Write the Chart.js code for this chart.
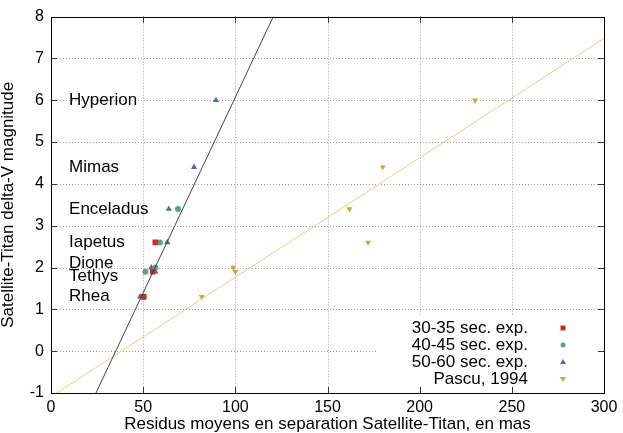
<!DOCTYPE html>
<html lang="en">
<head>
<meta charset="UTF-8" />
<title>Satellite-Titan residuals</title>
<style>
  * { margin: 0; padding: 0; box-sizing: border-box; }
  body { background: #fff; }
  .chartBox { width: 623px; height: 433px; }
</style>
</head>
<body>
<div class="chartBox"><canvas id="myChart"></canvas></div>
<script src="https://cdn.jsdelivr.net/npm/chart.js"></script>
<script>
// series values
const exp30X = [50.0, 55.2, 56.6];
const exp30Y = [1.3, 1.9, 2.6];
const exp40X = [50.6, 51.2, 56.6, 59.1, 68.9];
const exp40Y = [1.3, 1.9, 2.0, 2.6, 3.4];
const exp50X = [48.3, 54.4, 56.6, 63.1, 63.9, 77.6, 89.5];
const exp50Y = [1.3, 2.0, 1.9, 2.6, 3.4, 4.4, 6.0];
const pascuX = [81.8, 98.9, 100.0, 161.9, 172.0, 180.0, 230.0];
const pascuY = [1.3, 2.0, 1.9, 3.4, 2.6, 4.4, 6.0];

// fitted lines (end points)
const fitX = [24.4, 120.6];
const fitY = [-1, 8];
const pascuFitX = [3.1, 300];
const pascuFitY = [-1, 7.48];

// satellite labels
const moonNames = ["Hyperion", "Mimas", "Enceladus", "Iapetus", "Dione", "Tethys", "Rhea"];
const moonMags = [6.0, 4.4, 3.4, 2.6, 2.1, 1.8, 1.3];
const moonLabelX = 9.8;

const seriesNames = ["30-35 sec. exp.", "40-45 sec. exp.", "50-60 sec. exp.", "Pascu, 1994"];
const seriesColors = ["#d1291f", "#55a87a", "#3d70b8", "#d8a22c"];

const xTicks = [0, 50, 100, 150, 200, 250, 300];
const yTicks = [-1, 0, 1, 2, 3, 4, 5, 6, 7, 8];

Chart.defaults.font.family = "'Liberation Sans', Arial, sans-serif";
Chart.defaults.color = "#000";

const toPoints = (xs, ys) => xs.map((x, i) => ({ x: x, y: ys[i] }));

const gnuplotFrame = {
  id: "gnuplotFrame",
  beforeDatasetsDraw(chart) {
    const { ctx, chartArea: { top, bottom, left, right }, scales: { x, y } } = chart;
    ctx.save();
    ctx.strokeStyle = "#a0a0a0";
    ctx.lineWidth = 1;
    ctx.setLineDash([1, 2]);
    xTicks.slice(1, -1).forEach((v) => {
      const px = Math.round(x.getPixelForValue(v)) + 0.5;
      ctx.beginPath();
      ctx.moveTo(px, top);
      ctx.lineTo(px, bottom);
      ctx.stroke();
    });
    yTicks.slice(1, -1).forEach((v) => {
      const py = Math.round(y.getPixelForValue(v)) + 0.5;
      ctx.beginPath();
      ctx.moveTo(left, py);
      ctx.lineTo(right, py);
      ctx.stroke();
    });
    ctx.setLineDash([]);
    // key box blanks the grid
    ctx.fillStyle = "#fff";
    ctx.fillRect(right - 226, bottom - 77, 226, 77);
    ctx.restore();
  },
  afterDatasetsDraw(chart) {
    const { ctx, chartArea: { top, bottom, left, right }, scales: { x, y } } = chart;
    ctx.save();
    ctx.strokeStyle = "#000";
    ctx.lineWidth = 1;
    ctx.strokeRect(Math.round(left) + 0.5, Math.round(top) + 0.5, Math.round(right - left), Math.round(bottom - top));

    // inward tick marks on all four sides
    const len = 6;
    ctx.strokeStyle = "#333";
    xTicks.slice(1, -1).forEach((v) => {
      const px = Math.round(x.getPixelForValue(v)) + 0.5;
      ctx.beginPath();
      ctx.moveTo(px, bottom);
      ctx.lineTo(px, bottom - len);
      ctx.moveTo(px, top);
      ctx.lineTo(px, top + len);
      ctx.stroke();
    });
    yTicks.slice(1, -1).forEach((v) => {
      const py = Math.round(y.getPixelForValue(v)) + 0.5;
      ctx.beginPath();
      ctx.moveTo(left, py);
      ctx.lineTo(left + len, py);
      ctx.moveTo(right, py);
      ctx.lineTo(right - len, py);
      ctx.stroke();
    });

    // satellite names
    ctx.fillStyle = "#000";
    ctx.font = "17px 'Liberation Sans', Arial, sans-serif";
    ctx.textAlign = "left";
    ctx.textBaseline = "middle";
    moonNames.forEach((name, i) => {
      ctx.fillText(name, x.getPixelForValue(moonLabelX), y.getPixelForValue(moonMags[i]));
    });

    // key
    ctx.textAlign = "right";
    seriesNames.forEach((name, i) => {
      const ty = bottom - 65 + i * 17;
      ctx.fillStyle = "#000";
      ctx.fillText(name, right - 76, ty);
      const mx = right - 41;
      ctx.fillStyle = seriesColors[i];
      ctx.beginPath();
      if (i === 0) {
        ctx.rect(mx - 2.5, ty - 2.5, 5, 5);
      } else if (i === 1) {
        ctx.arc(mx, ty, 2.5, 0, Math.PI * 2);
      } else if (i === 2) {
        ctx.moveTo(mx, ty - 3);
        ctx.lineTo(mx + 3, ty + 2);
        ctx.lineTo(mx - 3, ty + 2);
      } else {
        ctx.moveTo(mx, ty + 3);
        ctx.lineTo(mx + 3, ty - 2);
        ctx.lineTo(mx - 3, ty - 2);
      }
      ctx.closePath();
      ctx.fill();
    });
    ctx.restore();
  },
};

const data = {
  datasets: [
    {
      label: "fit",
      type: "line",
      data: toPoints(fitX, fitY),
      borderColor: "#444",
      borderWidth: 1,
      pointRadius: 0,
    },
    {
      label: "pascu fit",
      type: "line",
      data: toPoints(pascuFitX, pascuFitY),
      borderColor: "#efca84",
      borderWidth: 1,
      pointRadius: 0,
    },
    {
      label: seriesNames[0],
      data: toPoints(exp30X, exp30Y),
      pointStyle: "rect",
      pointRadius: 4,
      backgroundColor: seriesColors[0],
      borderWidth: 0,
    },
    {
      label: seriesNames[1],
      data: toPoints(exp40X, exp40Y),
      pointStyle: "circle",
      pointRadius: 3,
      backgroundColor: seriesColors[1],
      borderWidth: 0,
    },
    {
      label: seriesNames[2],
      data: toPoints(exp50X, exp50Y),
      pointStyle: "triangle",
      pointRadius: 3.6,
      backgroundColor: seriesColors[2],
      borderWidth: 0,
    },
    {
      label: seriesNames[3],
      data: toPoints(pascuX, pascuY),
      pointStyle: "triangle",
      rotation: 180,
      pointRadius: 3.4,
      backgroundColor: seriesColors[3],
      borderWidth: 0,
    },
  ],
};

const config = {
  type: "scatter",
  data: data,
  options: {
    responsive: true,
    maintainAspectRatio: false,
    animation: false,
    layout: { padding: { top: 13, right: 19, left: 0, bottom: 0 } },
    plugins: {
      legend: { display: false },
      tooltip: { enabled: false },
    },
    scales: {
      x: {
        type: "linear",
        min: 0,
        max: 300,
        afterBuildTicks: (scale) => {
          scale.ticks = xTicks.map((v) => ({ value: v }));
        },
        afterFit: (scale) => {
          scale.height = 40;
        },
        grid: { display: false, drawTicks: false },
        border: { display: false },
        ticks: { padding: 5, font: { size: 16 } },
        title: {
          display: true,
          text: "Residus moyens en separation Satellite-Titan, en mas",
          font: { size: 17, lineHeight: 1 },
          padding: 0,
        },
      },
      y: {
        type: "linear",
        min: -1,
        max: 8,
        afterBuildTicks: (scale) => {
          scale.ticks = yTicks.map((v) => ({ value: v }));
        },
        afterFit: (scale) => {
          scale.width = 51;
        },
        grid: { display: false, drawTicks: false },
        border: { display: false },
        ticks: { padding: 7, font: { size: 16 } },
        title: {
          display: true,
          text: "Satellite-Titan delta-V magnitude",
          font: { size: 17, lineHeight: 1 },
          padding: 0,
        },
      },
    },
  },
  plugins: [gnuplotFrame],
};

const myChart = new Chart(document.getElementById("myChart"), config);
</script>
</body>
</html>
